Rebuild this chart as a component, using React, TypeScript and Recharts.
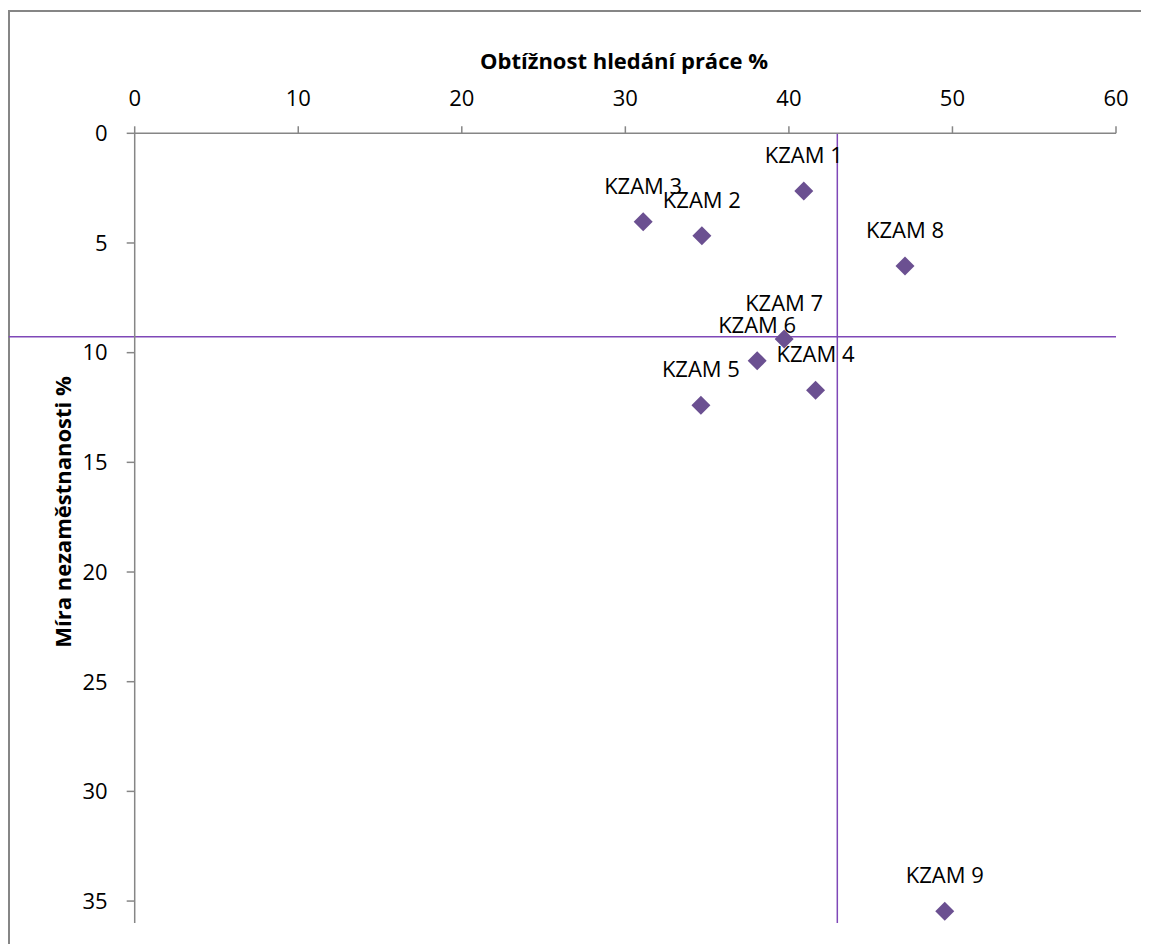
import { ScatterChart, Scatter, XAxis, YAxis, ReferenceLine } from 'recharts';

const names = ['KZAM 1', 'KZAM 2', 'KZAM 3', 'KZAM 4', 'KZAM 5', 'KZAM 6', 'KZAM 7', 'KZAM 8', 'KZAM 9'];
// Obtížnost hledání práce %
const obtiznost = [40.91, 34.68, 31.09, 41.63, 34.62, 38.06, 39.71, 47.1, 49.53];
// Míra nezaměstnanosti %
const mira = [2.63, 4.67, 4.03, 11.71, 12.4, 10.37, 9.38, 6.05, 35.46];

const xTicks = [0, 10, 20, 30, 40, 50, 60];
const yTicks = [0, 5, 10, 15, 20, 25, 30, 35];

// crossing lines
const hraniceObtiznost = 42.96;
const hraniceMira = 9.27;

const data = names.map((name, i) => ({ name, x: obtiznost[i], y: mira[i] }));

const FONT = '"Open Sans", sans-serif';
const AXIS = '#868686';
const POINT = '#6B5091';
const LINE = '#7F48B8';

function Diamond(props: any) {
  const { cx, cy, payload } = props;
  const r = 9.5;
  return (
    <g>
      <polygon points={`${cx},${cy - r} ${cx + r},${cy} ${cx},${cy + r} ${cx - r},${cy}`} fill={POINT} />
      <text x={cx} y={cy - 28} textAnchor="middle" fontSize={22} fontFamily={FONT} fill="#000">
        {payload.name}
      </text>
    </g>
  );
}

function XTitle() {
  return (
    <text x={616} y={61} textAnchor="middle" fontSize={22} fontWeight="bold" fontFamily={FONT} fill="#000">
      Obtížnost hledání práce %
    </text>
  );
}

function YTitle() {
  return (
    <text
      x={54}
      y={504}
      transform="rotate(-90 54 504)"
      textAnchor="middle"
      dominantBaseline="central"
      fontSize={22}
      fontWeight="bold"
      fontFamily={FONT}
      fill="#000"
    >
      Míra nezaměstnanosti %
    </text>
  );
}

export default function App() {
  const tick = { fill: '#000', fontSize: 22, fontFamily: FONT };
  return (
    <div style={{ position: 'relative', width: 1141, height: 936 }}>
      <div
        style={{
          position: 'absolute',
          left: 0,
          top: 2,
          width: 1141,
          height: 934,
          borderTop: `2px solid ${AXIS}`,
          borderLeft: `2px solid ${AXIS}`,
          boxSizing: 'border-box',
        }}
      />
      <div style={{ position: 'absolute', left: 0, top: 0 }}>
        <ScatterChart width={1141} height={936} margin={{ top: 0, right: 33, bottom: 21, left: 0 }}>
          <XAxis
            type="number"
            dataKey="x"
            orientation="top"
            domain={[0, 60]}
            ticks={xTicks}
            height={125.3}
            tick={tick}
            tickSize={7}
            tickMargin={20}
            axisLine={{ stroke: AXIS, strokeWidth: 1.5 }}
            tickLine={{ stroke: AXIS, strokeWidth: 1.5 }}
            label={<XTitle />}
          />
          <YAxis
            type="number"
            dataKey="y"
            reversed
            domain={[0, 36]}
            ticks={yTicks}
            width={126.7}
            tick={tick}
            tickSize={8}
            tickMargin={19}
            axisLine={{ stroke: AXIS, strokeWidth: 1.5 }}
            tickLine={{ stroke: AXIS, strokeWidth: 1.5 }}
            label={<YTitle />}
          />
          <ReferenceLine x={hraniceObtiznost} stroke={LINE} strokeWidth={1.5} />
          <ReferenceLine
            segment={[
              { x: -7.7, y: hraniceMira },
              { x: 60, y: hraniceMira },
            ]}
            ifOverflow="visible"
            stroke={LINE}
            strokeWidth={1.5}
          />
          <Scatter data={data} shape={<Diamond />} isAnimationActive={false} />
        </ScatterChart>
      </div>
    </div>
  );
}
